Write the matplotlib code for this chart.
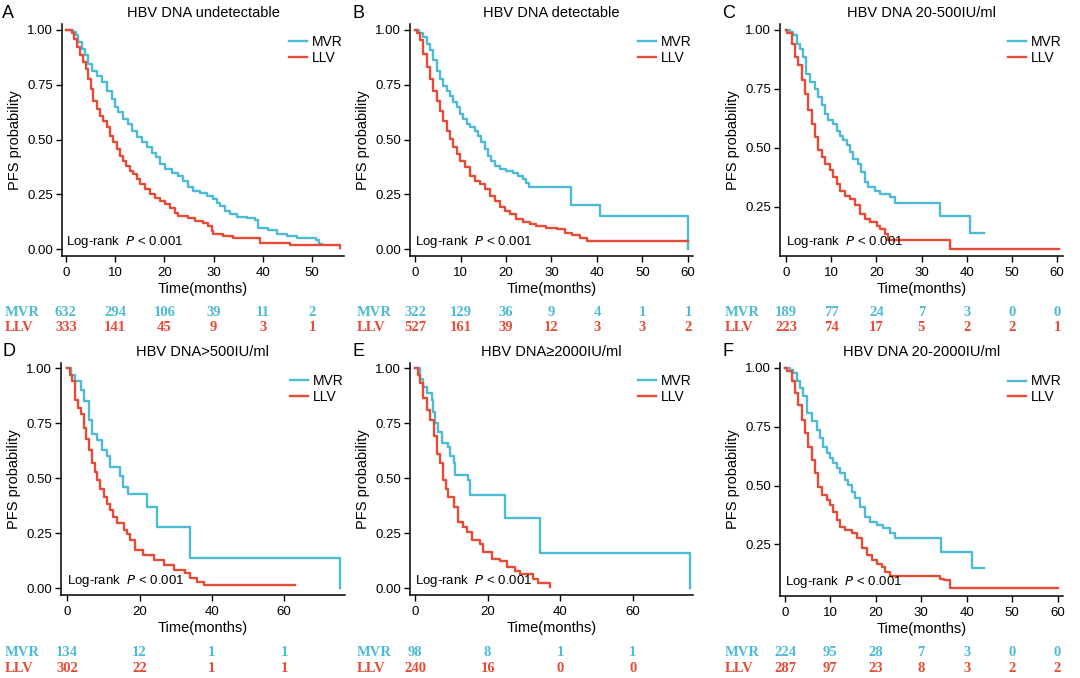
import matplotlib
matplotlib.use("Agg")
import matplotlib.pyplot as plt
from matplotlib.transforms import blended_transform_factory

plt.rcParams['font.family'] = ['Liberation Sans', 'DejaVu Sans']

MVR_COLOR = "#4DBBD5"
LLV_COLOR = "#E64B35"

# ---------------- data ----------------
titles = ["HBV DNA undetectable", "HBV DNA detectable", "HBV DNA 20-500IU/ml",
          "HBV DNA>500IU/ml", "HBV DNA\u22652000IU/ml", "HBV DNA 20-2000IU/ml"]
panel_letters = ["A", "B", "C", "D", "E", "F"]

# Panel A
a_mvr_t = [0, 1.5, 2.03, 2.5, 3.18, 3.86, 4.54, 5.22, 6.23, 7.25, 8.27, 9.28, 9.96, 10.6, 11.65, 12.67,
           13.35, 14.36, 15.38, 16.4, 17.4, 18.4, 19.1, 20.1, 21.5, 22.8, 23.85, 24.9, 25.9, 27.2, 28.6,
           29.95, 30.6, 31.3, 32.3, 33.3, 34.7, 36.7, 38.4, 39.1, 41.1, 42.8, 44.9, 46.9, 50.9, 51.5, 52.0]
a_mvr_s = [1.0, 0.99, 0.974, 0.944, 0.913, 0.883, 0.845, 0.814, 0.791, 0.761, 0.723, 0.685, 0.647,
           0.624, 0.594, 0.571, 0.54, 0.51, 0.487, 0.464, 0.441, 0.419, 0.388, 0.365, 0.35, 0.335, 0.312,
           0.282, 0.266, 0.259, 0.244, 0.228, 0.213, 0.198, 0.175, 0.16, 0.148, 0.142, 0.132, 0.096,
           0.087, 0.071, 0.061, 0.05, 0.041, 0.023, 0.023]
a_llv_t = [0, 1.15, 1.63, 2.17, 2.85, 3.52, 4.07, 4.54, 5.0, 5.56, 6.23, 6.9, 7.6, 8.27, 8.94, 9.62,
           10.3, 11.0, 11.65, 12.3, 13.0, 13.7, 14.4, 15.0, 16.06, 17.07, 18.1, 19.1, 20.1, 21.1, 22.15,
           22.8, 24.9, 26.2, 27.9, 28.9, 29.6, 29.95, 32.0, 34.0, 39.4, 45.5, 55.7]
a_llv_s = [1.0, 0.985, 0.959, 0.921, 0.883, 0.852, 0.822, 0.776, 0.73, 0.677, 0.639, 0.609, 0.586,
           0.556, 0.518, 0.487, 0.457, 0.426, 0.403, 0.38, 0.358, 0.342, 0.32, 0.297, 0.274, 0.251,
           0.236, 0.221, 0.205, 0.19, 0.167, 0.152, 0.145, 0.129, 0.122, 0.107, 0.084, 0.068, 0.061,
           0.05, 0.03, 0.018, 0.005]

# Panel B
b_mvr_t = [0, 0.95, 1.83, 2.56, 3.3, 4.0, 4.76, 5.5, 6.2, 6.96, 7.7, 8.4, 9.16, 9.9, 10.6, 11.4, 12.1,
           13.2, 13.9, 14.6, 15.4, 16.1, 16.8, 17.6, 18.7, 20.1, 21.6, 22.7, 23.8, 24.5, 25.1, 34.2,
           40.7, 60.0]
b_mvr_s = [1.0, 0.985, 0.967, 0.936, 0.906, 0.86, 0.814, 0.776, 0.746, 0.723, 0.70, 0.67, 0.647, 0.616,
           0.594, 0.571, 0.556, 0.54, 0.517, 0.487, 0.457, 0.426, 0.403, 0.38, 0.365, 0.358, 0.35,
           0.335, 0.32, 0.304, 0.282, 0.20, 0.15, 0.0]
b_llv_t = [0, 0.37, 1.1, 1.83, 2.56, 3.3, 4.0, 4.76, 5.5, 6.2, 6.96, 7.7, 8.4, 9.16, 9.9, 11.0, 12.1,
           13.2, 14.3, 15.4, 16.5, 17.6, 18.7, 19.8, 20.9, 22.3, 23.8, 25.3, 26.7, 28.9, 31.1, 33.0,
           34.4, 36.2, 37.7, 60.0]
b_llv_s = [1.0, 0.985, 0.951, 0.89, 0.83, 0.776, 0.723, 0.677, 0.632, 0.586, 0.54, 0.502, 0.464, 0.434,
           0.403, 0.373, 0.335, 0.312, 0.297, 0.274, 0.244, 0.221, 0.193, 0.175, 0.16, 0.137, 0.126,
           0.114, 0.107, 0.099, 0.091, 0.076, 0.066, 0.053, 0.038, 0.038]

# Panel C
c_mvr_t = [0, 0.9, 1.63, 2.37, 3.1, 3.85, 4.44, 5.33, 6.44, 7.2, 7.9, 8.7, 9.26, 10.5, 11.2, 12.0, 12.7,
           13.5, 14.2, 14.9, 16.0, 16.7, 17.5, 18.2, 19.7, 20.8, 23.0, 24.1, 34.2, 40.8, 43.8]
c_mvr_s = [1.0, 0.99, 0.976, 0.941, 0.92, 0.884, 0.814, 0.778, 0.75, 0.715, 0.68, 0.644, 0.616, 0.602,
           0.573, 0.552, 0.531, 0.51, 0.482, 0.453, 0.432, 0.397, 0.354, 0.333, 0.319, 0.305, 0.291,
           0.266, 0.21, 0.14, 0.14]
c_llv_t = [0, 0.3, 1.25, 2.0, 2.7, 3.46, 4.2, 4.94, 5.68, 6.4, 7.15, 7.9, 8.6, 9.7, 10.5, 11.2, 12.0,
           13.1, 14.2, 15.3, 16.4, 17.5, 18.6, 20.1, 20.8, 21.9, 22.6, 36.4, 60.4]
c_llv_s = [1.0, 0.985, 0.941, 0.884, 0.849, 0.785, 0.729, 0.658, 0.602, 0.545, 0.489, 0.46, 0.432,
           0.404, 0.376, 0.347, 0.319, 0.298, 0.284, 0.256, 0.22, 0.199, 0.185, 0.171, 0.157, 0.136,
           0.11, 0.073, 0.073]

# Panel D
d_mvr_t = [0, 1.0, 2.3, 3.7, 4.6, 6.0, 6.9, 8.3, 9.7, 11.0, 11.9, 14.5, 15.4, 16.9, 22.1, 24.8, 34.0, 75.4]
d_mvr_s = [1.0, 0.97, 0.94, 0.90, 0.85, 0.765, 0.70, 0.674, 0.63, 0.60, 0.553, 0.51, 0.46, 0.43, 0.37,
           0.28, 0.14, 0.0]
d_llv_t = [0, 0.8, 1.4, 2.3, 3.0, 3.7, 4.6, 5.3, 6.0, 6.9, 7.6, 8.3, 9.2, 10.1, 11.0, 11.9, 12.8, 13.8,
           15.6, 16.5, 17.5, 18.8, 21.1, 23.9, 26.7, 29.4, 32.6, 34.0, 35.8, 37.7, 63.0]
d_llv_s = [1.0, 0.97, 0.94, 0.856, 0.82, 0.79, 0.727, 0.68, 0.63, 0.57, 0.53, 0.49, 0.45, 0.417, 0.385,
           0.356, 0.325, 0.295, 0.265, 0.245, 0.22, 0.174, 0.15, 0.13, 0.106, 0.083, 0.068, 0.045,
           0.03, 0.015, 0.015]

# Panel E
e_mvr_t = [0, 1.3, 2.3, 3.2, 4.6, 5.0, 5.5, 6.4, 7.4, 9.2, 9.7, 10.6, 11.0, 14.7, 15.2, 24.8, 34.5, 75.8]
e_mvr_s = [1.0, 0.95, 0.916, 0.886, 0.856, 0.80, 0.75, 0.71, 0.66, 0.643, 0.60, 0.567, 0.514, 0.49,
           0.422, 0.32, 0.16, 0.0]
e_llv_t = [0, 0.8, 1.4, 2.3, 3.2, 4.1, 5.1, 6.0, 6.9, 7.8, 8.5, 9.2, 10.6, 11.9, 13.3, 14.2, 15.6, 17.9,
           18.8, 21.1, 23.4, 25.3, 27.6, 29.0, 32.6, 34.0, 37.2]
e_llv_s = [1.0, 0.97, 0.93, 0.863, 0.81, 0.764, 0.69, 0.61, 0.567, 0.49, 0.45, 0.415, 0.37, 0.30, 0.278,
           0.255, 0.22, 0.20, 0.164, 0.134, 0.126, 0.096, 0.08, 0.066, 0.043, 0.023, 0.005]

# Panel F
f_mvr_t = [0, 1.1, 1.83, 2.57, 3.3, 4.0, 4.77, 5.87, 6.97, 7.7, 8.44, 9.17, 9.9, 10.6, 11.4, 12.1, 13.2,
           13.9, 14.7, 15.4, 16.5, 17.6, 18.7, 20.2, 21.6, 23.1, 24.2, 34.3, 41.2, 43.9]
f_mvr_s = [1.0, 0.99, 0.979, 0.943, 0.915, 0.879, 0.808, 0.773, 0.737, 0.702, 0.666, 0.638, 0.616,
           0.595, 0.574, 0.553, 0.524, 0.503, 0.474, 0.446, 0.41, 0.368, 0.347, 0.332, 0.318, 0.297,
           0.276, 0.22, 0.15, 0.15]
f_llv_t = [0, 0.5, 1.47, 2.2, 2.93, 3.67, 4.4, 5.1, 5.87, 6.6, 7.3, 8.07, 9.17, 9.9, 10.6, 11.4, 12.1,
           13.2, 14.7, 15.8, 16.9, 18.0, 19.1, 20.2, 21.3, 22.0, 23.1, 34.1, 34.9, 36.3, 60.0]
f_llv_s = [1.0, 0.985, 0.943, 0.893, 0.844, 0.78, 0.723, 0.666, 0.609, 0.553, 0.496, 0.46, 0.439,
           0.418, 0.389, 0.354, 0.325, 0.311, 0.297, 0.276, 0.233, 0.205, 0.183, 0.169, 0.155, 0.134,
           0.114, 0.105, 0.098, 0.067, 0.067]

# Numbers at risk
risk_times_a = [0, 10, 20, 30, 40, 50]
risk_times_bcf = [0, 10, 20, 30, 40, 50, 60]
risk_times_de = [0, 20, 40, 60]
risk_mvr = [[632, 294, 106, 39, 11, 2],
            [322, 129, 36, 9, 4, 1, 1],
            [189, 77, 24, 7, 3, 0, 0],
            [134, 12, 1, 1],
            [98, 8, 1, 1],
            [224, 95, 28, 7, 3, 0, 0]]
risk_llv = [[333, 141, 45, 9, 3, 1],
            [527, 161, 39, 12, 3, 3, 2],
            [223, 74, 17, 5, 2, 2, 1],
            [302, 22, 1, 1],
            [240, 16, 0, 0],
            [287, 97, 23, 8, 3, 2, 2]]
risk_times = [risk_times_a, risk_times_bcf, risk_times_bcf, risk_times_de, risk_times_de, risk_times_bcf]

xticks = [risk_times_a, risk_times_bcf, risk_times_bcf, risk_times_de, risk_times_de, risk_times_bcf]
yticks_full = [0.0, 0.25, 0.5, 0.75, 1.0]
yticks_trim = [0.25, 0.5, 0.75, 1.0]
yticks = [yticks_full, yticks_full, yticks_trim, yticks_full, yticks_full, yticks_trim]

curves = [((a_mvr_t, a_mvr_s), (a_llv_t, a_llv_s)),
          ((b_mvr_t, b_mvr_s), (b_llv_t, b_llv_s)),
          ((c_mvr_t, c_mvr_s), (c_llv_t, c_llv_s)),
          ((d_mvr_t, d_mvr_s), (d_llv_t, d_llv_s)),
          ((e_mvr_t, e_mvr_s), (e_llv_t, e_llv_s)),
          ((f_mvr_t, f_mvr_s), (f_llv_t, f_llv_s))]

# ---------------- layout ----------------
W, H = 1080, 678
fig = plt.figure(figsize=(W / 100, H / 100), dpi=100)

# axes boxes in pixels: left, right, top, bottom
boxes = [(62, 344, 24, 256), (410, 693, 24, 256), (780, 1063, 24, 256),
         (61, 345, 363, 595), (410, 693, 363, 595), (780, 1063, 363, 596)]
xlims = [(-0.8, 56.5), (-1.1, 61.1), (-1.3, 61.3), (-1.7, 76.8), (-1.4, 76.6), (-1.1, 61.2)]
ylims = [(-0.03, 1.026), (-0.03, 1.026), (0.042, 1.024), (-0.03, 1.023), (-0.03, 1.023), (0.031, 1.021)]
risk_rows = [(312, 328), (312, 328), (312, 328), (652, 668), (652, 668), (652, 668)]
label_x = [5, 357, 725, 5, 357, 725]
letter_pos = [(2, 13), (352, 13), (722, 13), (2, 352), (352, 352), (722, 352)]

for i in range(6):
    l, r, t, b = boxes[i]
    ax = fig.add_axes([l / W, 1 - b / H, (r - l) / W, (b - t) / H])
    (mt, ms), (lt, ls) = curves[i]
    ax.step(mt, ms, where='post', color=MVR_COLOR, lw=1.7, label='MVR')
    ax.step(lt, ls, where='post', color=LLV_COLOR, lw=1.7, label='LLV')
    ax.set_xlim(*xlims[i])
    ax.set_ylim(*ylims[i])
    ax.set_xticks(xticks[i])
    ax.set_yticks(yticks[i])
    ax.set_yticklabels([f"{v:.2f}" for v in yticks[i]])
    for s in ['top', 'right']:
        ax.spines[s].set_visible(False)
    for s in ['left', 'bottom']:
        ax.spines[s].set_linewidth(1.1)
        ax.spines[s].set_color('black')
    ax.tick_params(axis='both', direction='out', length=4, width=1.0, labelsize=9.5,
                   colors='black', pad=2.5)
    ax.tick_params(axis='x', pad=4)
    ax.set_title(titles[i], fontsize=10.5, pad=5)
    ax.set_xlabel("Time(months)", fontsize=10.5, labelpad=2)
    ax.set_ylabel("PFS probability", fontsize=10.5, labelpad=4)
    ax.legend(loc='upper right', bbox_to_anchor=(1.015, 0.975), frameon=False, fontsize=10,
              handlelength=1.3, handletextpad=0.35, labelspacing=0.1, borderaxespad=0.0)
    ax.text(0, 0.06, "Log-rank  $\\it{P}$ < 0.001",
            transform=blended_transform_factory(ax.transData, ax.transAxes),
            ha='left', va='center', fontsize=9.5)
    fig.text(letter_pos[i][0] / W, 1 - letter_pos[i][1] / H, panel_letters[i], fontsize=13,
             ha='left', va='center')

    # numbers at risk
    tr = blended_transform_factory(ax.transData, fig.transFigure)
    ym, yl = risk_rows[i]
    for tt, n in zip(risk_times[i], risk_mvr[i]):
        ax.text(tt, 1 - ym / H, str(n), transform=tr, ha='center', va='center', color=MVR_COLOR,
                fontsize=10.5, fontweight='bold', family='Liberation Serif', clip_on=False)
    for tt, n in zip(risk_times[i], risk_llv[i]):
        ax.text(tt, 1 - yl / H, str(n), transform=tr, ha='center', va='center', color=LLV_COLOR,
                fontsize=10.5, fontweight='bold', family='Liberation Serif', clip_on=False)
    fig.text(label_x[i] / W, 1 - ym / H, "MVR", ha='left', va='center', color=MVR_COLOR,
             fontsize=10.5, fontweight='bold', family='Liberation Serif')
    fig.text(label_x[i] / W, 1 - yl / H, "LLV", ha='left', va='center', color=LLV_COLOR,
             fontsize=10.5, fontweight='bold', family='Liberation Serif')

fig.savefig("out.png", dpi=100)
